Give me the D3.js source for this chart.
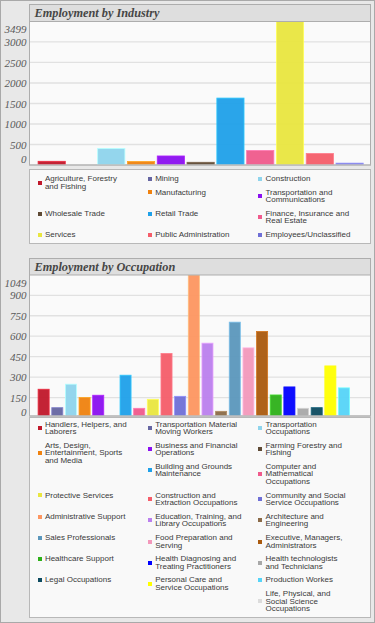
<!DOCTYPE html>
<html>
<head>
<meta charset="utf-8">
<script src="https://cdn.jsdelivr.net/npm/d3@7/dist/d3.min.js"></script>
<style>
  html, body { margin: 0; padding: 0; background: #e8e8e8; }
  #page { position: relative; width: 375px; height: 623px; background: #e8e8e8; box-sizing: border-box; border: 1px solid #a9a9a9; overflow: hidden; }
  #page svg { position: absolute; left: -1px; top: -1px; }
  .legend { position: absolute; box-sizing: border-box; border: 1px solid #b8b8b8; background: #f9f9f9; }
  .item { float: left; width: 110.3px; display: flex; align-items: center; margin-bottom: 6px; }
  .sw { flex: none; width: 4px; height: 4px; margin-right: 3.2px; }
  .tx { font-family: "Liberation Sans", Arial, sans-serif; font-size: 8px; line-height: 7.6px; color: #3a3a3a; white-space: pre-line; }
</style>
</head>
<body>
<div id="page"></div>
<script>
// ---------- data ----------
const palette = ["#c0182b", "#6666a2", "#8fd4ec", "#f0820f", "#8b10f0", "#5e4a35",
  "#1fa1e9", "#f05a8c", "#e9e640", "#f55d6a", "#6f6fd6", "#fd9660",
  "#bb80ee", "#8b6b48", "#5b97bc", "#f398bb", "#aa5a0e", "#2eb01a",
  "#0000ff", "#a8a8a8", "#0d4b60", "#ffff00", "#56d4f8", "#dcdcdc"];

const industryTitle = "Employment by Industry";
const industryCategories = [
  "Agriculture, Forestry\nand Fishing", "Mining", "Construction", "Manufacturing",
  "Transportation and\nCommunications", "Wholesale Trade", "Retail Trade",
  "Finance, Insurance and\nReal Estate", "Services", "Public Administration",
  "Employees/Unclassified"];
const industryValues = [90, 0, 401, 85, 220, 66, 1632, 352, 3499, 279, 45];
const industryTicks = [0, 500, 1000, 1500, 2000, 2500, 3000, 3499];

const occupationTitle = "Employment by Occupation";
const occupationCategories = [
  "Handlers, Helpers, and\nLaborers", "Transportation Material\nMoving Workers",
  "Transportation\nOccupations", "Arts, Design,\nEntertainment, Sports\nand Media",
  "Business and Financial\nOperations", "Farming Forestry and\nFishing",
  "Building and Grounds\nMaintenance", "Computer and\nMathematical\nOccupations",
  "Protective Services", "Construction and\nExtraction Occupations",
  "Community and Social\nService Occupations", "Administrative Support",
  "Education, Training, and\nLibrary Occupations", "Architecture and\nEngineering",
  "Sales Professionals", "Food Preparation and\nServing",
  "Executive, Managers,\nAdministrators", "Healthcare Support",
  "Health Diagnosing and\nTreating Practitioners", "Health technologists\nand Technicians",
  "Legal Occupations", "Personal Care and\nService Occupations", "Production Workes",
  "Life, Physical, and\nSocial Science\nOccupations"];
const occupationValues = [211, 76, 248, 150, 167, 0, 314, 71, 137, 473, 159, 1049,
  549, 49, 703, 515, 635, 169, 228, 71, 76, 382, 221, 6];
const occupationTicks = [0, 150, 300, 450, 600, 750, 900, 1049];

// ---------- layout ----------
const W = 375, H = 623;
const panelL = 29, panelR = 371;
const page = d3.select("#page");
const svg = page.append("svg").attr("width", W).attr("height", H);

const charts = [
  { title: industryTitle, cats: industryCategories, vals: industryValues, ticks: industryTicks,
    top: 4, plotTop: 21.5, plotBottom: 164.5, zeroY: 165, legendTop: 168.5, legendH: 75.5, legendPad: 5.5 },
  { title: occupationTitle, cats: occupationCategories, vals: occupationValues, ticks: occupationTicks,
    top: 258, plotTop: 275, plotBottom: 415.5, zeroY: 418, legendTop: 416.5, legendH: 201.5, legendPad: 3 }
];

charts.forEach((c, ci) => {
  const g = svg.append("g");
  const max = d3.max(c.ticks);
  const y = d3.scaleLinear().domain([0, max]).range([c.zeroY, c.plotTop]);
  const x = d3.scaleBand().domain(d3.range(c.cats.length)).range([36.8, 364.5]);

  // panel background
  g.append("rect").attr("x", panelL + 0.5).attr("y", c.top + 0.5)
    .attr("width", panelR - panelL - 1).attr("height", c.plotBottom - c.top)
    .attr("fill", "#fafafa").attr("stroke", "#adadad");

  // gridlines
  g.append("g").selectAll("line").data(c.ticks.slice(1, -1)).join("line")
    .attr("x1", panelL + 1).attr("x2", panelR - 1)
    .attr("y1", d => y(d)).attr("y2", d => y(d))
    .attr("stroke", "#e1e1e1").attr("stroke-width", 1.3);

  // clip
  const clipId = "clip" + ci;
  svg.append("clipPath").attr("id", clipId).append("rect")
    .attr("x", panelL + 1).attr("y", c.plotTop).attr("width", panelR - panelL - 2)
    .attr("height", c.plotBottom - c.plotTop);

  // bars
  g.append("g").attr("clip-path", `url(#${clipId})`)
    .selectAll("rect").data(c.vals).join("rect")
    .attr("x", (d, i) => x(i) + 1.3)
    .attr("width", x.bandwidth() - 2.6)
    .attr("y", d => y(d))
    .attr("height", d => c.zeroY - y(d))
    .attr("fill", (d, i) => palette[i])
    .attr("stroke", (d, i) => d3.color(palette[i]).brighter(0.6))
    .attr("stroke-width", 0.8)
    .attr("opacity", d => d > 0 ? 0.95 : 0);

  // plot bottom line
  g.append("line").attr("x1", panelL).attr("x2", panelR)
    .attr("y1", c.plotBottom + 0.5).attr("y2", c.plotBottom + 0.5)
    .attr("stroke", "#b5b5b5");

  // title bar
  g.append("rect").attr("x", panelL + 0.5).attr("y", c.top + 0.5)
    .attr("width", panelR - panelL - 1).attr("height", c.plotTop - c.top - 0.5)
    .attr("fill", "#dedede").attr("stroke", "#adadad");
  g.append("text").attr("x", panelL + 5.5).attr("y", c.top + 12.8)
    .attr("font-family", "'Liberation Serif', 'Times New Roman', serif")
    .attr("font-style", "italic").attr("font-weight", "bold")
    .attr("font-size", 12.3).attr("fill", "#464646").text(c.title);

  // y axis
  const ax = g.append("g").attr("transform", "translate(26.5,0)")
    .call(d3.axisLeft(y).tickValues(c.ticks).tickSize(0).tickPadding(0).tickFormat(d3.format("d")));
  ax.select(".domain").remove();
  ax.selectAll("text")
    .attr("font-family", "'Liberation Serif', 'Times New Roman', serif")
    .attr("font-style", "italic").attr("font-size", 11).attr("fill", "#5a5a5a")
    .attr("y", d => {
      const p = Math.min(Math.max(y(d), c.plotTop + 7.5), c.zeroY - 6.5);
      return p - y(d);
    });

  // legend
  const lg = page.append("div").attr("class", "legend")
    .style("left", (panelL - 1) + "px").style("top", (c.legendTop - 1) + "px")
    .style("width", (panelR - panelL) + "px").style("height", c.legendH + "px")
    .style("padding", `${c.legendPad}px 0 0 7.7px`);
  const items = lg.selectAll(".item").data(c.cats).join("div").attr("class", "item");
  items.append("div").attr("class", "sw").style("background", (d, i) => palette[i]);
  items.append("div").attr("class", "tx").text(d => d);
});
</script>
</body>
</html>
